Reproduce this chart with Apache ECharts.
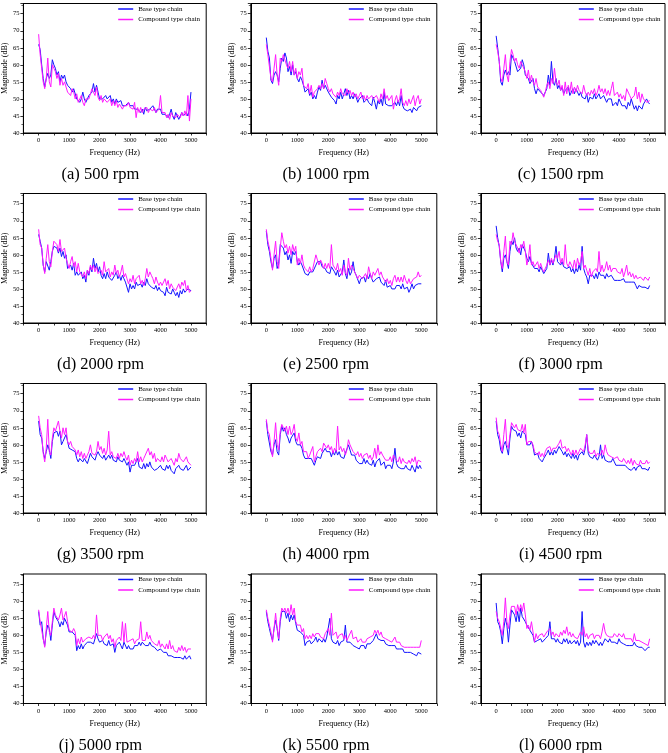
<!DOCTYPE html>
<html>
<head>
<meta charset="utf-8">
<script src="https://cdn.jsdelivr.net/npm/echarts@6/dist/echarts.min.js"></script>
<style>
  html, body { margin: 0; padding: 0; background: #fff; }
  #main { width: 668px; height: 753px; }
</style>
</head>
<body>
<div id="main"></div>
<script>
// frequency (Hz) of each sample
const freq = [0,50,100,150,200,250,300,350,400,450,500,550,600,650,700,750,800,850,900,950,
  1000,1050,1100,1150,1200,1250,1300,1350,1400,1450,1500,1550,1600,1650,1700,1750,1800,1850,1900,1950,
  2000,2050,2100,2150,2200,2250,2300,2350,2400,2450,2500,2550,2600,2650,2700,2750,2800,2850,2900,2950,
  3000,3050,3100,3150,3200,3250,3300,3350,3400,3450,3500,3550,3600,3650,3700,3750,3800,3850,3900,3950,
  4000,4050,4100,4150,4200,4250,4300,4350,4400,4450,4500,4550,4600,4650,4700,4750,4800,4850,4900,4950,5000];

const seriesNames = ['Base type chain', 'Compound type chain'];
const panelLabels = ['(a) 500 rpm','(b) 1000 rpm','(c) 1500 rpm','(d) 2000 rpm','(e) 2500 rpm','(f) 3000 rpm',
  '(g) 3500 rpm','(h) 4000 rpm','(i) 4500 rpm','(j) 5000 rpm','(k) 5500 rpm','(l) 6000 rpm'];

// magnitude (dB)
const base_500 = [66,64.5,60,56,53.5,56,57.5,56,57,61.5, 60,59,57,58,55,57,56,57,55,54,
  53.5,53,52,53,52.5,50,49.5,49,50,52, 50,49,50,51,51.5,52,54.5,52,54,52,
  50,50.5,50,49.5,51,50,49.5,51,49,50, 48.5,50,49,48.5,49.5,48,48.5,48,47.5,49,
  48,47.5,48,47,46.5,47,47.5,46,47,45.5, 47.5,46.5,46,47,46.5,48,47,46,47,46.5,
  47,45.5,45,45.5,46,44.5,45.5,47,45,44, 46,45,44,45,46,45,45.5,46,45,47, 52];
const comp_500 = [69,63,59,55,53,56,62,55,53.5,60, 59,58,56,57.5,54,56,54,55,55.5,52,
  52.5,51,53,52,50,51.5,49,50,51,49, 48,50,49.5,50,51.5,53,53,51,53.5,50.5,
  49.5,51,49,50,50.5,49,48.5,50,48,49.5, 48,49.5,47.5,48.5,49,47,48,47.5,48,49,
  47.5,48,47,49,44.5,47.5,46,47.5,46,47, 46.5,47.5,46,47,47.5,46.5,47.5,46,46.5,47,
  51,46,45.5,46,44.5,45.5,44,46,45,45.5, 44.5,45.5,46,44.5,46,45,46.5,45,51,43.5, 50];

const base_1000 = [68,64,62,55.5,54.5,57,58,57,55,59, 62,61,63.5,62,58,59.5,57,60,57,58,
  56,55,56.5,55.5,54,52,51.5,53,51,52, 50,51,50,52,53.5,52.5,55.5,53,54,53.5,
  52,51.5,50.5,51,49.5,48.5,51,50,52,50, 51.5,53,51,52.5,50,51,50,51.5,50.5,49,
  50,49.5,51,49,48.5,50,49,49.5,48,50.5, 49,47,49.5,48.5,50,48,52,48.5,49,48,
  48.5,48,47.5,49,48,49.5,48,51,48,47, 47.5,46.5,46,47,46,47.5,47,46.5,47.5,48, 48];
const comp_1000 = [66,63,63,56,55,59,63,57,54,62, 61,63,61.5,60,59,61,58,61,57,59,
  56,58,57,59,54,53.5,53,54.5,51.5,54, 50.5,52,51.5,53,54,53,54.5,53,56,54.5,
  53,52,53,51.5,52,50.5,52,51,53,51.5, 52,51,53,51.5,52.5,51,52,50.5,51.5,50,
  51,52,50,51,49.5,51,50,49.5,51,50, 49.5,51,50,49,51.5,50,53,50,51,49.5,
  50,51,47,49.5,51,49,50,53,49,48, 49.5,48,50,48.5,49,51,48,50,51,48.5, 50];

const base_1500 = [68.5,65,61,55,54,57,58.5,57,58,57, 63,62.5,61,60.5,58,57.5,59,61.5,60,57,
  56.5,56,54.5,55,56,53,51.5,53,52.5,52, 52,51,51.5,53,57,54,61,55,54,56,
  53,54,52.5,53.5,51.5,52.5,52,53.5,51,52, 53,51.5,53,52,51,52,50.5,51,50,51.5,
  49,50.5,51,50,51.5,50,49.5,51.5,50,49.5, 51,50,49,50,49.5,50,48,47.5,49,48,
  50,49,48,47.5,48,47,49,48,50,48.5, 47,48,46.5,48,47.5,47,48.5,49,50,49, 48.5];
const comp_1500 = [66,64,61,56,55,59,63,57,55,61, 64.5,63,61,62,60,59,61,60,59.5,58,
  56,58.5,55,57,55,54,56,53.5,54,52.5, 53,50.5,52,54,55,53,56,54.5,59,55,
  54,55.5,52.5,54,51,55,51.5,54,52,55, 51.5,53.5,52,54,52.5,53,51.5,54,52,51,
  52,51,52.5,51.5,53,51,52,54,52,53, 51.5,53,51,52.5,51,53,55,51,50.5,52,
  50.5,51.5,50,51,49.5,53,52.5,51,50,49.5, 51,53.5,50,52,49,51.5,50,49.5,49,49.5, 49.5];

const base_2000 = [66,64,62,57,55,58,57.5,55.5,58,61, 62.5,63,62,60.5,62,59.5,61,59,60,56,
  56,57,55.5,57.5,54,55,54,53.5,55,53, 54,52,55.5,54,56.5,55,59,56,57.5,55,
  56.5,54,53,54.5,53,55,53.5,54,52.5,53, 54,55,53,54,52.5,54,53,52,51.5,49,
  51.5,50,51,50,52,51,50.5,51.5,50.5,52, 51,53,51.5,52,50.5,51,50,51,49.5,50.5,
  49.5,50,49,48,50.5,49,49.5,48.5,50,49, 48,49,47.5,49.5,48.5,50,49,48.5,50,49.5, 49.5];
const comp_2000 = [67.5,63,62,57,54.5,59,63,58,56.5,61, 64,63.5,63,61,64.5,61,60.5,62,59,57.5,
  56,58,59.5,56.5,58,55,57.5,55,54.5,53.5, 55,53,55.5,54.5,57,55.5,57,55,56.5,54.5,
  55,55.5,54,58,55,54.5,56,53.5,55,54, 57,54.5,55.5,53.5,55,57,53.5,54.5,53,51.5,
  53,52,54,51.5,53,52.5,54,51.5,52.5,51, 53,56,53.5,55,54,53,51.5,53.5,52,51,
  52,51,50.5,53,51,52.5,50,51.5,50.5,51, 49.5,50,51.5,50,52,51,52.5,49.5,51,49, 49.5];

const base_2500 = [67,63,61,58,56,59,60,56,57.5,63, 63.5,62,60,61,58.5,60,57.5,61,60,61,
  58,57,58,57,56.5,54.5,55,54,55,54.5, 55,54.5,57,58,57.5,58,56.5,57,56,55,
  55.5,54.5,56.5,56,55,54,55.5,53.5,54,55, 58.5,54.5,53,56,54,55,58,55,54,53.5,
  51.5,53,52.5,53.5,52,54,53,54.5,53,52, 51.5,53,52.5,53.5,52,51.5,51,52.5,50.5,50,
  51,50,50.5,50,51,50.5,51,50,51.5,50, 49.5,50.5,49,50,51.5,50,51,50.5,51.5,51, 51.5];
const comp_2500 = [67.5,64,62,59,55.5,60,64,58,56,62, 66.5,64,62,63,60.5,62.5,60,63,61,62.5,
  57,59,57.5,60,57,56,56.5,55,56.5,55, 56,55.5,60,58.5,57,58.5,57.5,56,57.5,56,
  57.5,56,63,57,56.5,55.5,57.5,55,56,54, 57,55,54,59,55.5,57,56.5,55,54.5,53,
  54,53.5,53,52.5,54.5,53,56.5,54.5,53,55, 54,53.5,56,54,55,53.5,54,52,53,51.5,
  52.5,51,53,54,52,53.5,52,53.5,52,54, 52.5,51.5,53,51.5,52,53,52.5,53.5,55,53.5, 54];

const base_3000 = [68.5,65,62.5,58,55,59,60,58,56,61, 64,63,65,62,61,62,60,63,62.5,61,
  59,58,59.5,57.5,58,56,55.5,56,55,56.5, 55.5,54.5,54,56,60.5,57,58.5,57,59,62.5,
  58,57.5,57,58,56.5,57,56,55.5,56.5,55, 56,54.5,56,55,57,55.5,62.5,56,54.5,53.5,
  51.5,54,53.5,54,53,54.5,53,55,54,53.5, 54,53,54.5,53.5,53,54,53.5,52.5,53,52.5,
  53,52.5,52,53,52,51.5,52,51.5,52,51.5, 52,51,50,51,51.5,50.5,51,50.5,51,50, 51];
const comp_3000 = [66,64,63,58,56,61,65.5,58,57,64, 63,66.5,64,63,62,60.5,63,62,64,61,
  57,59,63,57,58,56.5,57,58,56,57.5, 56,55,55.5,57,58.5,57,59,57.5,58,60,
  59,61,57.5,59,57,63,57.5,56.5,58,57, 56,58.5,56,59,57,58,61,56,57,55.5,
  54,56,53.5,55,54.5,56,55,61,55,57, 55,56,58,55.5,57,55,56,55.5,56,55,
  55.5,54.5,56,53.5,55,57,54,55,53.5,54.5, 53,54,53,52.5,53.5,53,52.5,53.5,53,52.5, 53.5];

const base_3500 = [67,63,62,58,56,58,60,58.5,56,61, 63.5,63,64,62.5,64,60,61,62,63,61,
  59,59.5,58.5,59,58,56,55,56,55.5,55, 56,55.5,54.5,56,57.5,56.5,57,55.5,57,58,
  57,56.5,56,57,55.5,56,57,56,57,55.5, 56,55,56.5,55.5,56,55,56,55,54,55,
  52,54,53.5,54,53.5,56,53.5,54,53,54.5, 53,54.5,53.5,55,53.5,53,52.5,52,53,52.5,
  54,53,53.5,52.5,54,53,54,52.5,53,51.5, 53,52.5,54,53,53.5,52.5,53,54,52.5,53, 53.5];
const comp_3500 = [68.5,65,63,57.5,55,59,67.5,58,57,62, 65,64,63.5,67,64,62,65,63,65,61,
  60,61,59.5,60,58.5,57,58.5,56.5,58,56, 57.5,56,57,58,60,57.5,58,57,58,61,
  58.5,59.5,57.5,59,57,58.5,64,57,58,56.5, 57,56,57.5,56,57.5,56.5,58,56.5,55.5,57,
  54,55.5,54.5,56,55,58,55,56.5,55,56, 57,56.5,59,57,58,56,57.5,55,56,55.5,
  55,56.5,55,57,56,55,54.5,56,55,54, 56,55,57.5,56,55.5,55,54.5,56.5,55,54.5, 54];

const base_4000 = [67,63,62.5,58,57,60,61.5,58,57,63, 65.5,64,65,63,62,60.5,62,61.5,63.5,61,
  60,59.5,60,59,57,56,55.5,56,55.5,56, 55,54,55.5,56.5,57,56,57.5,58,59,58,
  57.5,58,56.5,58,57,58.5,57,58,56.5,57, 56,57.5,58,60,58.5,57,56.5,57,55.5,56,
  54.5,55,54.5,56,54.5,55.5,54.5,55,54,55.5, 53.5,55,54.5,56,54,53.5,55,53,54,53.5,
  54,53,55,59,54.5,53.5,54,53,53.5,53, 54,53,53.5,52.5,54,53,52,54,53,54, 53];
const comp_4000 = [67.5,64,63,59,56.5,61,66.5,60,58.5,64, 66,65,64,65.5,63,65.5,63,64,66,62,
  61,63.5,60,61,58,57.5,58,56,57,56.5, 59.5,55,56.5,58,57.5,59,58,60.5,61,59,
  60,58.5,59.5,57.5,59,58,65.5,58.5,59.5,58, 59,57,58.5,61.5,60,59.5,58,58.5,57,58,
  56.5,57.5,56,57,56.5,57.5,56,57,55.5,56.5, 59,56,60,57,58,57,57.5,55.5,56,55.5,
  56.5,55,57,56,55.5,55,56.5,54.5,56,55, 55.5,54.5,55.5,54.5,56,55,56.5,54,55.5,55, 55];

const base_4500 = [67,63,61.5,58.5,57.5,60,61,59,57,62, 65.5,64.5,65,64,62.5,63.5,62,64,63.5,63,
  60,60.5,60,61,59.5,57,56.5,57.5,56,56.5, 55,56,56.5,57.5,58.5,57,58,57,58.5,57.5,
  58,59.5,60,58,57,58,56.5,57.5,57,56, 57.5,56,57,55.5,57,56.5,58,57,59,63,
  57.5,56.5,57,56,57,56.5,55.5,56.5,60,56, 57,55.5,56,55,55.5,55,56,55,54,54.5,
  54,53.5,54,53.5,54,53.5,53,53.5,52.5,53, 53.5,52.5,53.5,53,54,53,53.5,53,53.5,52.5, 53.5];
const comp_4500 = [68,64,63,60,58,63,67.5,60,59,63, 66.5,67,65,66,64.5,65,64,66,63.5,66,
  60,61,60.5,61,60,58,58.5,57,58,56.5, 57.5,56.5,58,59,58.5,59.5,58,59,58.5,59,
  59.5,60.5,61.5,59,58.5,59.5,58,59,58,57, 58.5,57,58.5,57,58,59,59.5,58,60,63,
  58.5,57.5,58,57.5,58.5,56.5,57.5,58,57,58.5, 57,60,58,57,57.5,56.5,57,56,55.5,56.5,
  55.5,56,55,56,55.5,54.5,55.5,54.5,56,54, 55.5,54.5,55,54,55.5,54.5,55,54.5,55.5,54.5, 55];

const base_5000 = [67,63,64,59,57,61,63,62,58.5,63, 67,65.5,66,64,62.5,64,63,65,64.5,63,
  61,60.5,61,60.5,60,55.5,57,56,57.5,56, 57,56.5,58,57.5,58,58.5,57.5,58,60.5,59,
  58,57.5,58.5,57.5,58,57,58.5,57,56.5,57.5, 55,57,56.5,58,57,56,58,57.5,56,57,
  56,56.5,56,57,57.5,57,58,57,58,57.5, 57,57.5,57,58,57,57.5,56.5,56,55.5,55,
  56,55.5,55,54.5,55,54,54.5,54,54.5,53.5, 54,53.5,53,53.5,54,53,54,53,52.5,54, 53];
const comp_5000 = [67.5,64,64.5,59,56.5,62,67,61,60,64, 68,66,66.5,64.5,66,68,64.5,65,67,64,
  61.5,62,61,62,61,57,59,57.5,59.5,58, 58.5,59,58.5,59.5,60,59,60,59,66,60,
  59.5,60,58.5,59.5,59,60.5,59,60,58,59, 56.5,58.5,58,59.5,58.5,64,58,63.5,58,57.5,
  58.5,58,59,57.5,58.5,58,59,64,58.5,59, 58.5,61,59,60,58.5,59,57.5,58,57,58.5,
  56.5,57.5,57,56,57.5,56,58.5,56,57,55.5, 56,55,56.5,55.5,57,55.5,56.5,55,56,55.5, 56];

const base_5500 = [67,64,62,60,58.5,62,64.5,62,58.5,64, 67,66.5,67,65,66.5,64,66,64.5,66,63.5,
  61.5,62,61,61.5,60,57,58,57.5,58.5,57.5, 58,58.5,59.5,58,59,58.5,58,59,58,59.5,
  60,65,59,58,58.5,57.5,58.5,57,58,57.5, 58.5,63,58,57.5,58,58.5,57,57.5,56.5,57,
  56,57,56.5,57,56,57.5,58,57.5,58,58.5, 59,60.5,59,59.5,58.5,58,58.5,57.5,58,57,
  57.5,57,56.5,57,56,56.5,56,55.5,56,55, 55.5,55,54.5,55,55.5,54.5,55,54,55,54.5, 54.5];
const comp_5500 = [67.5,65,63,61,58,62,66.5,62,59,65, 68,67,68,66.5,68,66,69,66,68,64,
  63,62.5,63,61,62,59,60,59,60,59, 60.5,59.5,60.5,60,60.5,59.5,60,59,60.5,61,
  62,60,66.5,60,59.5,61,59,60,59.5,60.5, 59,60,58.5,59.5,59,61.5,59,58.5,59.5,58,
  58.5,59,58,58.5,58,59,58.5,59.5,59,60, 61.5,60.5,61.5,60,61,59.5,60,59,59.5,58.5,
  59,58,58.5,59.5,58,57.5,58,57,57.5,56.5, 57,56.5,57,56.5,57,56.5,57,56.5,57,56.5, 58.5];

const base_6000 = [69.5,64,63,61,57.5,62,65,63,58,63, 67.5,67,66,64,67,64,68,65.5,66,64,
  63,62.5,61.5,62,60,58,57.5,58.5,58,59, 58,58.5,59,58.5,60,64,59,58.5,59,58,
  59,58,58.5,57.5,59,58,59,57.5,58.5,57.5, 58,58.5,57.5,58.5,57,58,67,58,56.5,58,
  57,58,57,58.5,57.5,58.5,58,57,58,57, 58,59,58.5,58,59,58,58.5,58,58.5,57.5,
  59,58,58.5,57.5,58,57,57.5,57,57.5,57, 58,57,57.5,56.5,57,56.5,56,55.5,56,56.5, 56.5];
const comp_6000 = [67,65,64,62,60,64,71,64,62,66, 68.5,68,68.5,66,69,67,69,67,69.5,66,
  62,63,61.5,64,61,58,60.5,59,60,59.5, 60.5,59.5,60,61,60.5,62,60,61,59.5,60.5,
  60,59.5,61,60,61.5,60.5,62.5,60,61,59.5, 60.5,59.5,60,59,60,61,60,62.5,59.5,60.5,
  59,60,59.5,60.5,59,60,59.5,60,59,61, 63.5,61,60,60.5,59.5,60,59.5,60.5,60,59.5,
  60.5,60,59.5,60.5,59,59.5,59,58.5,59,58, 60.5,58.5,59,58.5,59,58,58.5,57.5,58,57, 59];

const baseData = [base_500, base_1000, base_1500, base_2000, base_2500, base_3000,
  base_3500, base_4000, base_4500, base_5000, base_5500, base_6000];
const compData = [comp_500, comp_1000, comp_1500, comp_2000, comp_2500, comp_3000,
  comp_3500, comp_4000, comp_4500, comp_5000, comp_5500, comp_6000];

// layout of the 3 x 4 panels (px)
const colLeft = [20.2, 250.8, 480.8];
const rowTop = [3.5, 193.5, 383.5, 574];
const gridW = 186, gridH = 129.5;
const captionX = [100.5, 326, 560.7];
const FONT = 'Liberation Serif';
const BLUE = '#1414ff', PINK = '#ff1aff';

const chart = echarts.init(document.getElementById('main'), null, { renderer: 'canvas' });

const grid = [], xAxis = [], yAxis = [], series = [], legend = [], graphic = [];

for (let i = 0; i < 12; i++) {
  const c = i % 3, r = Math.floor(i / 3);
  grid.push({
    left: colLeft[c], top: rowTop[r], width: gridW, height: gridH,
    show: true, borderColor: '#000', borderWidth: 1, backgroundColor: 'transparent'
  });
  xAxis.push({
    gridIndex: i, type: 'value', min: -500, max: 5500, interval: 500,
    name: 'Frequency (Hz)', nameLocation: 'middle', nameGap: 16,
    nameTextStyle: { fontFamily: FONT, fontSize: 8, color: '#000' },
    axisLine: { onZero: false, lineStyle: { color: '#000', width: 1 } },
    axisTick: { show: true, length: 2.5, inside: false, lineStyle: { color: '#000', width: 0.8 } },
    axisLabel: {
      fontFamily: FONT, fontSize: 6.5, color: '#000', margin: 4,
      formatter: v => (v >= 0 && v <= 5000 && v % 1000 === 0) ? String(v) : ''
    },
    splitLine: { show: false }
  });
  yAxis.push({
    gridIndex: i, type: 'value', min: 40, max: 78, interval: 5,
    name: 'Magnitude (dB)', nameLocation: 'middle', nameGap: 13,
    nameTextStyle: { fontFamily: FONT, fontSize: 8, color: '#000' },
    axisLine: { onZero: false, lineStyle: { color: '#000', width: 1 } },
    axisTick: { show: true, length: 3, lineStyle: { color: '#000', width: 0.8 } },
    minorTick: { show: true, splitNumber: 2, length: 2, lineStyle: { color: '#000', width: 0.6 } },
    axisLabel: {
      fontFamily: FONT, fontSize: 6.5, color: '#000', margin: 4,
      formatter: v => (v % 5 === 0) ? String(v) : ''
    },
    splitLine: { show: false }
  });
  series.push({
    name: seriesNames[0], type: 'line', xAxisIndex: i, yAxisIndex: i,
    symbol: 'none', color: BLUE, lineStyle: { width: 1, color: BLUE },
    data: freq.map((f, k) => [f, baseData[i][k]])
  });
  series.push({
    name: seriesNames[1], type: 'line', xAxisIndex: i, yAxisIndex: i,
    symbol: 'none', color: PINK, lineStyle: { width: 1, color: PINK },
    data: freq.map((f, k) => [f, compData[i][k]])
  });
  legend.push({
    data: seriesNames, orient: 'vertical', left: colLeft[c] + 98, top: rowTop[r] + 1.5,
    padding: 0, icon: 'rect', itemWidth: 15, itemHeight: 1.5, itemGap: 2.5, selectedMode: false,
    textStyle: { fontFamily: FONT, fontSize: 7, color: '#000', lineHeight: 8 }
  });
  graphic.push({
    type: 'text', x: captionX[c], y: rowTop[r] + 171.5,
    style: { text: panelLabels[i], fontFamily: FONT, fontSize: 16.5, fill: '#000',
      align: 'center', verticalAlign: 'middle' }
  });
}

chart.setOption({
  backgroundColor: '#fff',
  animation: false,
  grid, xAxis, yAxis, series, legend, graphic
});
</script>
</body>
</html>
